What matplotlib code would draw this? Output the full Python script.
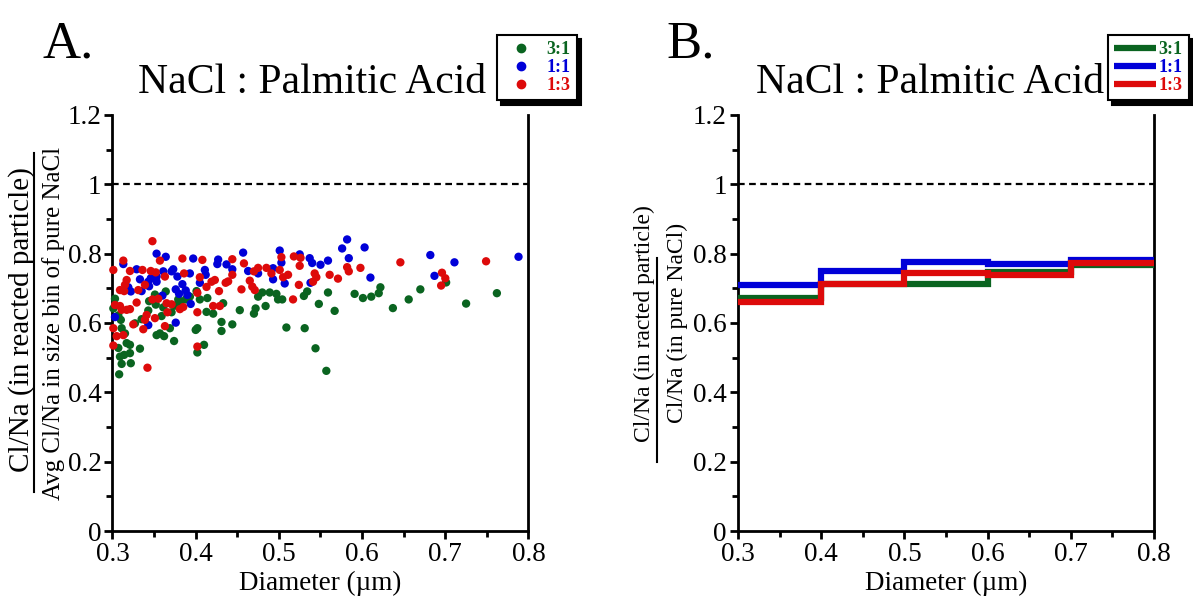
import numpy as np
import matplotlib
matplotlib.use("Agg")
matplotlib.rcParams.update({
    "font.family": "serif", "font.serif": ["Liberation Serif", "DejaVu Serif"],
    "mathtext.fontset": "stix",
})
import matplotlib.pyplot as plt
from matplotlib.lines import Line2D

GREEN = "#0a6420"
BLUE = "#0000d8"
RED = "#dd0a0a"
LABELS = ["3:1", "1:1", "1:3"]

# --- panel A: single particles (diameter um, normalised Cl/Na) ---
green_d = [0.303, 0.301, 0.307, 0.310, 0.311, 0.315, 0.317, 0.321, 0.309, 0.314,
           0.321, 0.311, 0.322, 0.308, 0.307, 0.333, 0.327, 0.335, 0.343, 0.344,
           0.351, 0.352, 0.353, 0.357, 0.362, 0.359, 0.364, 0.361, 0.369, 0.371,
           0.374, 0.375, 0.379, 0.381, 0.388, 0.393, 0.401, 0.402, 0.400, 0.402,
           0.405, 0.410, 0.413, 0.414, 0.421, 0.431, 0.431, 0.433, 0.444, 0.453,
           0.470, 0.472, 0.475, 0.480, 0.484, 0.489, 0.497, 0.499, 0.504, 0.509,
           0.530, 0.531, 0.534, 0.544, 0.548, 0.559, 0.557, 0.567, 0.591, 0.601,
           0.622, 0.620, 0.611, 0.637, 0.656, 0.670, 0.701, 0.725, 0.762]
green_r = [0.670, 0.642, 0.622, 0.609, 0.585, 0.570, 0.542, 0.537, 0.503, 0.508,
           0.513, 0.482, 0.484, 0.452, 0.528, 0.526, 0.599, 0.611, 0.636, 0.663,
           0.682, 0.653, 0.565, 0.570, 0.562, 0.620, 0.691, 0.645, 0.585, 0.631,
           0.548, 0.650, 0.668, 0.661, 0.668, 0.676, 0.692, 0.585, 0.580, 0.515,
           0.668, 0.537, 0.632, 0.672, 0.627, 0.603, 0.577, 0.657, 0.596, 0.637,
           0.627, 0.642, 0.676, 0.688, 0.649, 0.688, 0.684, 0.668, 0.668, 0.587,
           0.678, 0.585, 0.691, 0.527, 0.655, 0.688, 0.462, 0.635, 0.684, 0.672,
           0.703, 0.686, 0.676, 0.643, 0.668, 0.697, 0.717, 0.656, 0.686]

blue_d = [0.582, 0.576, 0.603, 0.584, 0.610, 0.525, 0.537, 0.540, 0.550, 0.559,
          0.538, 0.507, 0.501, 0.503, 0.493, 0.493, 0.475, 0.463, 0.457, 0.444,
          0.437, 0.427, 0.426, 0.411, 0.412, 0.405, 0.397, 0.393, 0.394, 0.390,
          0.388, 0.384, 0.380, 0.376, 0.378, 0.373, 0.371, 0.364, 0.353, 0.361,
          0.360, 0.353, 0.353, 0.346, 0.343, 0.344, 0.333, 0.335, 0.329, 0.322,
          0.319, 0.313, 0.303, 0.343, 0.376, 0.682, 0.711, 0.687, 0.788]
blue_r = [0.841, 0.815, 0.818, 0.787, 0.731, 0.798, 0.787, 0.773, 0.768, 0.780,
          0.716, 0.714, 0.809, 0.774, 0.758, 0.726, 0.743, 0.750, 0.803, 0.755,
          0.769, 0.783, 0.770, 0.753, 0.739, 0.716, 0.786, 0.743, 0.655, 0.681,
          0.694, 0.712, 0.684, 0.697, 0.734, 0.755, 0.749, 0.791, 0.800, 0.749,
          0.679, 0.719, 0.734, 0.729, 0.719, 0.706, 0.726, 0.692, 0.755, 0.691,
          0.703, 0.770, 0.617, 0.594, 0.601, 0.796, 0.775, 0.736, 0.791]

red_d = [0.348, 0.313, 0.301, 0.321, 0.336, 0.346, 0.352, 0.357, 0.363, 0.384,
         0.386, 0.408, 0.405, 0.317, 0.315, 0.309, 0.314, 0.331, 0.339, 0.309,
         0.311, 0.317, 0.321, 0.303, 0.329, 0.348, 0.355, 0.365, 0.371, 0.381,
         0.385, 0.366, 0.341, 0.339, 0.337, 0.351, 0.325, 0.301, 0.305, 0.313,
         0.301, 0.342, 0.363, 0.402, 0.402, 0.402, 0.413, 0.419, 0.423, 0.428,
         0.421, 0.429, 0.436, 0.439, 0.444, 0.444, 0.455, 0.458, 0.465, 0.468,
         0.471, 0.470, 0.475, 0.485, 0.491, 0.501, 0.503, 0.505, 0.511, 0.517,
         0.518, 0.525, 0.526, 0.524, 0.543, 0.545, 0.541, 0.561, 0.571, 0.582,
         0.584, 0.598, 0.646, 0.696, 0.700, 0.695, 0.749]
red_r = [0.836, 0.780, 0.753, 0.750, 0.753, 0.750, 0.746, 0.780, 0.734, 0.786,
         0.743, 0.782, 0.732, 0.724, 0.710, 0.695, 0.692, 0.695, 0.710, 0.649,
         0.638, 0.638, 0.640, 0.652, 0.659, 0.668, 0.670, 0.657, 0.654, 0.640,
         0.646, 0.631, 0.623, 0.609, 0.582, 0.614, 0.596, 0.585, 0.562, 0.565,
         0.535, 0.471, 0.591, 0.687, 0.631, 0.532, 0.704, 0.719, 0.724, 0.692,
         0.649, 0.649, 0.716, 0.720, 0.739, 0.784, 0.697, 0.772, 0.722, 0.705,
         0.695, 0.749, 0.759, 0.759, 0.743, 0.753, 0.790, 0.732, 0.739, 0.668,
         0.792, 0.765, 0.788, 0.710, 0.743, 0.732, 0.719, 0.739, 0.728, 0.761,
         0.749, 0.759, 0.775, 0.745, 0.729, 0.708, 0.778]

# --- panel B: size-binned averages ---
bin_edges = [0.3, 0.4, 0.5, 0.6, 0.7, 0.8]
green_bin = [0.673, 0.712, 0.712, 0.748, 0.766]
blue_bin = [0.711, 0.751, 0.776, 0.769, 0.781]
red_bin = [0.660, 0.712, 0.743, 0.738, 0.774]


def style_axes(ax, title_x):
    ax.set_xlim(0.3, 0.8)
    ax.set_ylim(0, 1.2)
    ax.set_xticks(np.arange(0.3, 0.81, 0.1))
    ax.set_xticks(np.arange(0.35, 0.8, 0.1), minor=True)
    ax.set_yticks(np.arange(0, 1.21, 0.2))
    ax.set_yticks(np.arange(0.1, 1.2, 0.2), minor=True)
    ax.set_xticklabels(["0.3", "0.4", "0.5", "0.6", "0.7", "0.8"])
    ax.set_yticklabels(["0", "0.2", "0.4", "0.6", "0.8", "1", "1.2"])
    ax.spines["top"].set_visible(False)
    for s in ("left", "bottom", "right"):
        ax.spines[s].set_linewidth(2.0)
    ax.tick_params(which="major", direction="out", length=6, width=2,
                   labelsize=19.5, pad=2)
    ax.tick_params(which="minor", direction="out", length=4, width=2)
    ax.axhline(1.0, color="black", lw=1.6, ls=(0, (3, 2)))
    ax.set_xlabel("Diameter (\u00b5m)", fontsize=19.5, labelpad=3)
    ax.set_title("NaCl : Palmitic Acid", fontsize=30, pad=16, x=title_x)


fig = plt.figure(figsize=(11.93, 6.03), dpi=100)
axA = fig.add_axes([0.0943, 0.1194, 0.3487, 0.6899])
axB = fig.add_axes([0.6186, 0.1194, 0.3487, 0.6899])

for d, r, c in [(green_d, green_r, GREEN), (blue_d, blue_r, BLUE), (red_d, red_r, RED)]:
    axA.scatter(d, r, s=36, color=c, edgecolors="none", zorder=3, clip_on=False)
style_axes(axA, 0.48)

for vals, c in [(green_bin, GREEN), (blue_bin, BLUE), (red_bin, RED)]:
    axB.stairs(vals, bin_edges, color=c, lw=4.5, baseline=None, zorder=3)
style_axes(axB, 0.462)

# panel letters
fig.text(0.036, 0.905, "A.", fontsize=38)
fig.text(0.559, 0.905, "B.", fontsize=38)

# fraction-style y labels
fig.text(0.018, 0.47, "Cl/Na (in reacted particle)", rotation=90,
         ha="center", va="center", fontsize=21)
fig.text(0.045, 0.464, "Avg Cl/Na in size bin of pure NaCl", rotation=90,
         ha="center", va="center", fontsize=18)
fig.add_artist(Line2D([0.0285, 0.0285], [0.184, 0.746], color="black", lw=1.5,
                      transform=fig.transFigure))

fig.text(0.540, 0.464, "Cl/Na (in racted particle)", rotation=90,
         ha="center", va="center", fontsize=17)
fig.text(0.568, 0.464, "Cl/Na (in pure NaCl)", rotation=90,
         ha="center", va="center", fontsize=17)
fig.add_artist(Line2D([0.551, 0.551], [0.234, 0.572], color="black", lw=1.5,
                      transform=fig.transFigure))

# legends
shadow = {"color": "black", "alpha": 1.0, "ox": 3, "oy": -3}
hA = [Line2D([], [], marker="o", ls="", color=c, markersize=6)
      for c in (GREEN, BLUE, RED)]
legA = fig.legend(hA, LABELS, loc="upper left", bbox_to_anchor=(0.4166, 0.942),
                  frameon=True, fancybox=False, shadow=shadow, edgecolor="black",
                  framealpha=1, handlelength=2.0, handletextpad=0.4,
                  labelspacing=0.05, borderpad=0.35, borderaxespad=0,
                  prop={"weight": "bold", "size": 13},
                  labelcolor=[GREEN, BLUE, RED])
legA.get_frame().set_linewidth(1.5)

hB = [Line2D([], [], color=c, lw=4.5, solid_capstyle="butt")
      for c in (GREEN, BLUE, RED)]
legB = fig.legend(hB, LABELS, loc="upper left", bbox_to_anchor=(0.9288, 0.942),
                  frameon=True, fancybox=False, shadow=shadow, edgecolor="black",
                  framealpha=1, handlelength=2.3, handletextpad=0.15,
                  labelspacing=0.05, borderpad=0.35, borderaxespad=0,
                  prop={"weight": "bold", "size": 13},
                  labelcolor=[GREEN, BLUE, RED])
legB.get_frame().set_linewidth(1.5)

fig.savefig("out.png", dpi=100)
